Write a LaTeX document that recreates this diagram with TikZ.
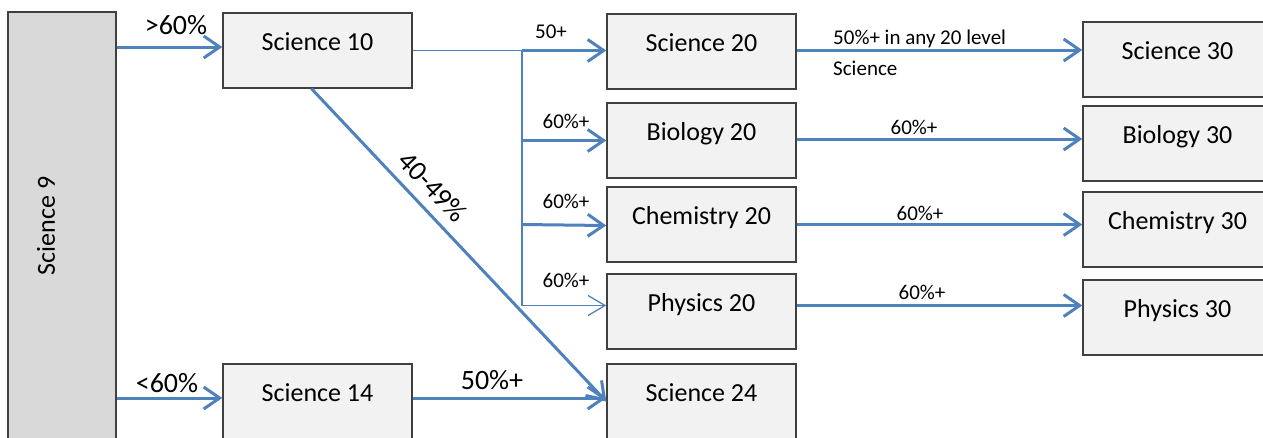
\documentclass[tikz,border=0pt]{standalone}
\usepackage{fontspec}
\setmainfont{Carlito}
\usetikzlibrary{arrows.meta,calc}
\definecolor{arrowblue}{HTML}{4F81BD}
\definecolor{boxfill}{HTML}{F2F2F2}
\definecolor{sidefill}{HTML}{D9D9D9}
\definecolor{boxline}{HTML}{404040}
\tikzset{
  box/.style={draw=boxline, line width=1.4pt, fill=boxfill, minimum width=189pt, minimum height=75pt,
    inner sep=0pt, text height=18pt, text depth=18pt, font=\fontsize{26}{31}\selectfont},
  sidebox/.style={draw=boxline, line width=1.4pt, fill=sidefill, inner sep=0pt},
  bigtxt/.style={font=\fontsize{26}{31}\selectfont, inner sep=0pt},
  lbl/.style={font=\fontsize{21}{25}\selectfont, inner sep=0pt},
  lblbig/.style={font=\fontsize{28}{33}\selectfont, inner sep=0pt},
  thick arrow/.style={draw=arrowblue, line width=3pt, -{Straight Barb[length=16pt, width=22pt]}},
  thin arrow/.style={draw=arrowblue, line width=1.3pt, -{Straight Barb[length=17pt, width=20pt]}},
  thin line/.style={draw=arrowblue, line width=1.3pt},
}
\begin{document}
\begin{tikzpicture}[x=1pt, y=-1pt]
\useasboundingbox (0,0) rectangle (1263,437);
\clip (0,0) rectangle (1263,437);
% boxes
\node[sidebox, minimum width=108pt, minimum height=428pt] (s9) at (62,226) {};
\node[bigtxt, rotate=90] (s9t) at (46,226) {Science 9};
\node[box] (s10) at (317.5,50.5) {Science 10};
\node[box] (s14) at (317.5,401.5) {Science 14};
\node[box] (s20) at (701.5,51.5) {Science 20};
\node[box] (b20) at (701.5,140.5) {Biology 20};
\node[box] (c20) at (701.5,224.5) {Chemistry 20};
\node[box] (p20) at (701.5,311.5) {Physics 20};
\node[box] (s24) at (701.5,401.5) {Science 24};
\node[box] (s30) at (1177.5,59.5) {Science 30};
\node[box] (b30) at (1177.5,143.5) {Biology 30};
\node[box] (c30) at (1177.5,229.5) {Chemistry 30};
\node[box] (p30) at (1177.5,317.5) {Physics 30};
% coordinates
\coordinate (jt) at (522,50.5);
\coordinate (pw) at ($(p20.west)+(0,-6)$);
\coordinate (pe) at ($(p20.east)+(0,-6)$);
\coordinate (jb) at (jt |- pw);
\coordinate (s10w) at ($(s10.west)+(0,-3.5)$);
\coordinate (s14w) at ($(s14.west)+(0,-3.5)$);
\coordinate (s14e) at ($(s14.east)+(0,-3.5)$);
\coordinate (s20e) at ($(s20.east)+(0,-1.5)$);
\coordinate (s10s) at ($(s10.south)+(-6,0)$);
% connectors
\draw[thick arrow] (s9.east |- s10w) -- (s10w);
\draw[thick arrow] (s9.east |- s14w) -- (s14w);
\draw[thin line] (s10.east |- jt) -- (jt) -- (jb);
\draw[thick arrow] (jt) -- (jt -| s20.west);
\draw[thick arrow] (jt |- b20.west) -- (b20.west);
\draw[thick arrow] (jt |- c20.west) -- ($(c20.west)+(0,1)$);
\draw[thin arrow] (jb) -- (pw);
\draw[thick arrow] (s20e) -- (s20e -| s30.west);
\draw[thick arrow] ($(b20.east)+(0,-1.5)$) -- ($(b20.east -| b30.west)+(0,-1.5)$);
\draw[thick arrow] (c20.east) -- (c20.east -| c30.west);
\draw[thick arrow] (pe) -- (pe -| p30.west);
\draw[thick arrow] (s14e) -- (s14e -| s24.west);
\draw[thick arrow] (s10s) -- (s24.west)
  node[lblbig, pos=0.36, sloped, above=10pt] (l4049) {40-49\%};
% labels
\node[lblbig] (lgt) at (176,25) {>60\%};
\node[lblbig] (llt) at (167,383) {<60\%};
\node[lblbig] (l50b) at (492,380) {50\%+};
\node[lbl] (l50) at (551,32) {50+};
\node[lbl] (lb) at (566,121) {60\%+};
\node[lbl] (lc) at (566,201) {60\%+};
\node[lbl] (lp) at (566,280) {60\%+};
\node[lbl, anchor=base west] (ls1) at (833,44) {50\%+ in any 20 level};
\node[lbl, anchor=base west] (ls2) at (833,75) {Science};
\node[lbl] (rb) at (914,127) {60\%+};
\node[lbl] (rc) at (920,213) {60\%+};
\node[lbl] (rp) at (922,292) {60\%+};
\end{tikzpicture}
\end{document}
